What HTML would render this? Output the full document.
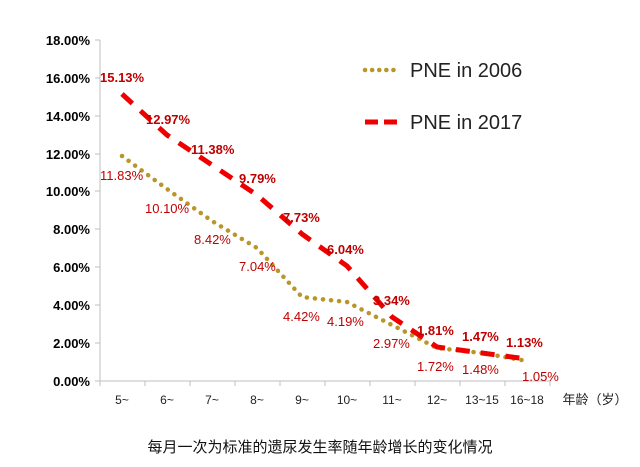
<!DOCTYPE html>
<html><head><meta charset="utf-8"><style>
html,body{margin:0;padding:0;background:#fff;}
svg{display:block;font-family:"Liberation Sans","Noto Sans CJK SC",sans-serif;}
</style></head><body>
<svg width="640" height="467" viewBox="0 0 640 467" xmlns="http://www.w3.org/2000/svg">
<g stroke="#bfbfbf" stroke-width="1">
<line x1="100" y1="40" x2="100" y2="381"/>
<line x1="100" y1="381" x2="550" y2="381"/>
<line x1="95" y1="40" x2="100" y2="40"/><line x1="95" y1="78" x2="100" y2="78"/>
<line x1="95" y1="116" x2="100" y2="116"/><line x1="95" y1="154" x2="100" y2="154"/>
<line x1="95" y1="191" x2="100" y2="191"/><line x1="95" y1="229" x2="100" y2="229"/>
<line x1="95" y1="267" x2="100" y2="267"/><line x1="95" y1="305" x2="100" y2="305"/>
<line x1="95" y1="343" x2="100" y2="343"/><line x1="95" y1="381" x2="100" y2="381"/>
<line x1="145" y1="381" x2="145" y2="386"/><line x1="190" y1="381" x2="190" y2="386"/>
<line x1="235" y1="381" x2="235" y2="386"/><line x1="280" y1="381" x2="280" y2="386"/>
<line x1="325" y1="381" x2="325" y2="386"/><line x1="370" y1="381" x2="370" y2="386"/>
<line x1="415" y1="381" x2="415" y2="386"/><line x1="460" y1="381" x2="460" y2="386"/>
<line x1="505" y1="381" x2="505" y2="386"/><line x1="550" y1="381" x2="550" y2="386"/>
<line x1="100" y1="381" x2="100" y2="386"/>
</g>
<g font-size="13" font-weight="bold" fill="#000" text-anchor="end">
<text x="90" y="45">18.00%</text><text x="90" y="83">16.00%</text>
<text x="90" y="121">14.00%</text><text x="90" y="159">12.00%</text>
<text x="90" y="196">10.00%</text><text x="90" y="234">8.00%</text>
<text x="90" y="272">6.00%</text><text x="90" y="310">4.00%</text>
<text x="90" y="348">2.00%</text><text x="90" y="386">0.00%</text>
</g>
<g font-size="12" fill="#222" text-anchor="middle">
<text x="122" y="404">5~</text><text x="167" y="404">6~</text><text x="212" y="404">7~</text>
<text x="257" y="404">8~</text><text x="302" y="404">9~</text><text x="347" y="404">10~</text>
<text x="392" y="404">11~</text><text x="437" y="404">12~</text><text x="482" y="404">13~15</text>
<text x="527" y="404">16~18</text>
<text x="595" y="404" font-size="13">年龄（岁）</text>
</g>
<text x="320" y="452" font-size="15" text-anchor="middle" fill="#111">每月一次为标准的遗尿发生率随年龄增长的变化情况</text>
<polyline fill="none" stroke="#b8962a" stroke-width="4.5" stroke-linecap="round" stroke-dasharray="0.1 8"
points="122,156 167,189 212,221 257,248 302,297 347,302 392,325 437,348 482,353 527,361"/>
<polyline fill="none" stroke="#ee0000" stroke-width="5" stroke-dasharray="14 11"
points="122,94 167,135 212,165 257,195 302,234 347,266 392,317 437,347 482,353 527,359"/>
<g font-size="13" font-weight="bold" fill="#c00000">
<text x="100" y="82">15.13%</text><text x="146" y="124">12.97%</text>
<text x="191" y="154">11.38%</text><text x="239" y="183">9.79%</text>
<text x="283" y="222">7.73%</text><text x="327" y="254">6.04%</text>
<text x="373" y="305">3.34%</text><text x="417" y="335">1.81%</text>
<text x="462" y="341">1.47%</text><text x="506" y="347">1.13%</text>
</g>
<g font-size="13" fill="#c00000">
<text x="100" y="180">11.83%</text><text x="145" y="213">10.10%</text>
<text x="194" y="244">8.42%</text><text x="239" y="271">7.04%</text>
<text x="283" y="321">4.42%</text><text x="327" y="326">4.19%</text>
<text x="373" y="348">2.97%</text><text x="417" y="371">1.72%</text>
<text x="462" y="374">1.48%</text><text x="522" y="381">1.05%</text>
</g>
<line x1="365" y1="70" x2="398" y2="70" stroke="#b8962a" stroke-width="4.5" stroke-linecap="round" stroke-dasharray="0.1 7"/>
<text x="410" y="77" font-size="20" fill="#222">PNE in 2006</text>
<line x1="365" y1="122" x2="398" y2="122" stroke="#ee0000" stroke-width="5" stroke-dasharray="13 6"/>
<text x="410" y="129" font-size="20" fill="#222">PNE in 2017</text>
</svg>
</body></html>
